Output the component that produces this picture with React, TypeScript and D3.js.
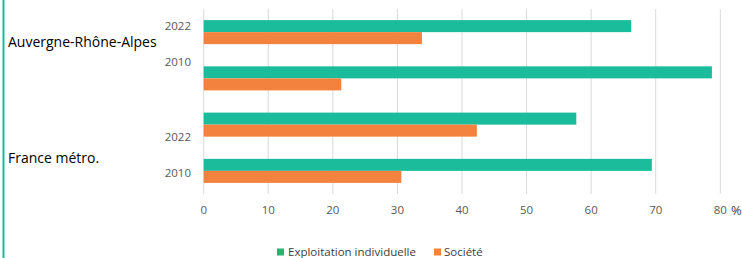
import * as d3 from 'd3';

// rows: region / year
const regions = ['Auvergne-Rhône-Alpes', 'France métro.'];
const years = ['2022', '2010'];
const exploitation = [66.2, 78.7, 57.7, 69.4];
const societe = [33.8, 21.3, 42.3, 30.6];
const xTicks = [0, 10, 20, 30, 40, 50, 60, 70, 80];
const seriesNames = ['Exploitation individuelle', 'Société'];

const W = 742;
const H = 258;
const TEAL = '#1BBC9B';
const ORANGE = '#F4823F';
const LEGEND_GREEN = '#28B46C';
const FONT = '"Open Sans", "Noto Sans", sans-serif';

// odd label placement of the original (px from the band centre)
const yearShift = [-6, -16, 12, 2];
const regionShift = [-13, 10];

export default function App() {
  const rows = d3.range(regions.length * years.length);

  const x = d3.scaleLinear().domain([0, 80]).range([203.7, 720.3]);
  const y = d3.scaleBand<number>().domain(rows).range([9, 194]).paddingInner(0.48).paddingOuter(0.24);
  const inner = d3.scaleBand<string>().domain(['exp', 'soc']).range([0, y.bandwidth()]);

  const center = (r: number) => (y(r) as number) + y.bandwidth() / 2;

  return (
    <svg width={W} height={H} style={{ position: 'absolute', left: 0, top: 0, background: '#fff' }}>
      <rect x={2.5} y={0} width={2} height={H} fill={TEAL} />

      {xTicks.map((t) => (
        <line key={t} x1={x(t)} x2={x(t)} y1={9} y2={194} stroke="#d9d9d9" strokeWidth={1} />
      ))}

      {rows.map((r) => (
        <g key={r}>
          <rect x={x(0)} y={(y(r) as number) + (inner('exp') as number)} width={x(exploitation[r]) - x(0)} height={inner.bandwidth()} fill={TEAL} />
          <rect x={x(0)} y={(y(r) as number) + (inner('soc') as number)} width={x(societe[r]) - x(0)} height={inner.bandwidth()} fill={ORANGE} />
          <text x={191} y={center(r) + yearShift[r]} dy="0.35em" textAnchor="end" fontFamily={FONT} fontSize={11.5} fill="#595959">
            {years[r % years.length]}
          </text>
        </g>
      ))}

      {regions.map((name, i) => {
        const c = (center(i * 2) + center(i * 2 + 1)) / 2 + regionShift[i];
        return (
          <text key={name} x={8} y={c} dy="0.35em" fontFamily={FONT} fontSize={14} fill="#000">
            {name}
          </text>
        );
      })}

      {xTicks.map((t) => (
        <text key={t} x={x(t)} y={210} dy="0.35em" textAnchor="middle" fontFamily={FONT} fontSize={11.5} fill="#595959">
          {t}
        </text>
      ))}
      <text x={731} y={210} dy="0.35em" fontFamily={FONT} fontSize={13} fill="#404040">%</text>

      <g>
        <rect x={277} y={248.5} width={7} height={7} fill={LEGEND_GREEN} />
        <text x={288} y={251.5} dy="0.35em" fontFamily={FONT} fontSize={11.5} fill="#404040">{seriesNames[0]}</text>
        <rect x={434} y={248.5} width={7} height={7} fill={ORANGE} />
        <text x={444} y={251.5} dy="0.35em" fontFamily={FONT} fontSize={11.5} fill="#404040">{seriesNames[1]}</text>
      </g>
    </svg>
  );
}
